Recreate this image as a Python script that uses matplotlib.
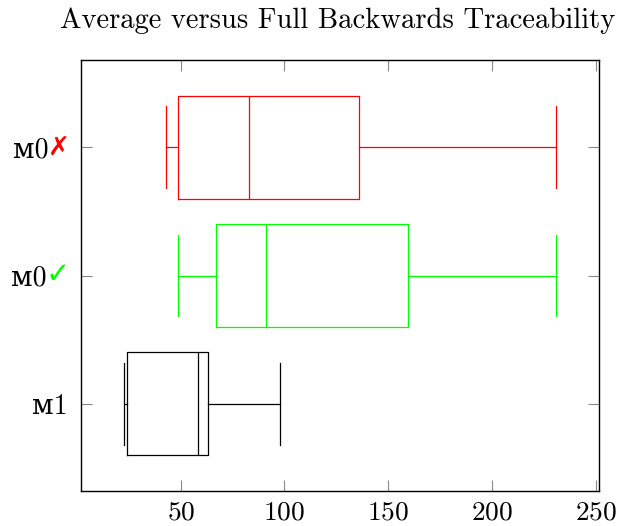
import matplotlib
matplotlib.use('Agg')
import matplotlib.pyplot as plt

plt.rcParams['font.family'] = ['cmr10', 'DejaVu Serif', 'DejaVu Sans']
plt.rcParams['axes.formatter.use_mathtext'] = True

# box statistics (bottom to top)
names = ['\u1d0d1', '\u1d0d0', '\u1d0d0']
marks = ['', '\u2713', '\u2717']
mark_colors = ['black', '#00ff00', '#ff0000']
box_colors = ['black', '#00ff00', '#ff0000']
whislo = [22.8, 48.8, 42.8]
q1 = [24.3, 66.9, 48.8]
med = [58.5, 91.3, 82.9]
q3 = [63.3, 159.7, 135.9]
whishi = [98.0, 231.0, 231.0]

fig = plt.figure(figsize=(6.18, 5.26), dpi=100)
ax = fig.add_axes([81/618, 1-490.7/526, (599.3-81)/618, (490.7-60.3)/526])

pos = [1, 2, 3]
for i in range(3):
    st = [dict(whislo=whislo[i], q1=q1[i], med=med[i], q3=q3[i], whishi=whishi[i], fliers=[])]
    c = box_colors[i]
    ax.bxp(st, positions=[pos[i]], vert=False, widths=0.8, capwidths=0.64, showfliers=False,
           boxprops=dict(color=c, linewidth=0.9),
           whiskerprops=dict(color=c, linewidth=0.9),
           capprops=dict(color=c, linewidth=0.9),
           medianprops=dict(color=c, linewidth=0.9))

ax.set_xlim(1.95, 251.7)
ax.set_ylim(0.32, 3.68)
ax.set_xticks([50, 100, 150, 200, 250])
ax.set_yticks(pos)
ax.set_yticklabels([])
ax.tick_params(direction='in', length=8, width=0.8, color='#888888', labelsize=19.7,
               top=True, right=True, pad=7)
for s in ax.spines.values():
    s.set_linewidth(1.0)

# y labels drawn by hand so the check / cross can have their own colour
px = 0.72
for i in range(3):
    if marks[i]:
        big = marks[i] == '\u2713'
        ax.annotate(marks[i], xy=(0, pos[i]), xycoords=('axes fraction', 'data'),
                    xytext=(-11*px, 0), textcoords='offset points', ha='right', va='center',
                    color=mark_colors[i], fontsize=21 if big else 19, family='DejaVu Sans',
                    fontweight='bold')
        off = 35 if big else 33
    else:
        off = 13
    ax.annotate(names[i], xy=(0, pos[i]), xycoords=('axes fraction', 'data'),
                xytext=(-off*px, 0), textcoords='offset points', ha='right', va='center_baseline',
                fontsize=20)

fig.text(337.5/618, 1-21/526, 'Average versus Full Backwards Traceability', ha='center', va='center',
         fontsize=20.6)

fig.savefig('out.png', dpi=100)
